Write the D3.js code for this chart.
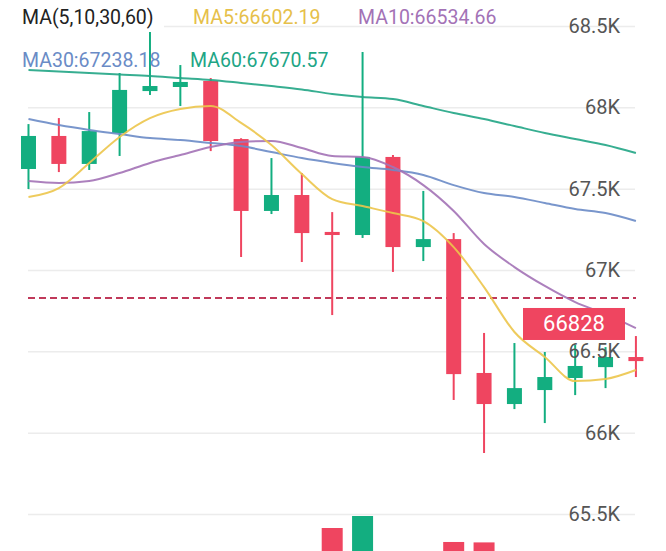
<!DOCTYPE html>
<html>
<head>
<meta charset="utf-8">
<script src="https://d3js.org/d3.v7.min.js"></script>
<style>
  body { margin: 0; background: #fff; }
  svg text { font-family: Roboto, "Noto Sans", sans-serif; }
</style>
</head>
<body>
<svg id="chart"></svg>
<script>
// candles, oldest first
const opens  = [67621, 67824, 67652, 67842, 68100, 68125, 68162, 67805, 67363, 67461, 67234, 67215, 67695, 67141, 67190, 66367, 66176, 66262, 66336, 66403, 66465];
const highs  = [67897, 67934, 67971, 68211, 68463, 68260, 68180, 67810, 67688, 67596, 67356, 68340, 67707, 67486, 67227, 66613, 66551, 66496, 66539, 66526, 66594];
const lows   = [67498, 67602, 67615, 67701, 68076, 68008, 67731, 67080, 67344, 67049, 66723, 67197, 66988, 67055, 66201, 65875, 66145, 66059, 66231, 66274, 66342];
const closes = [67824, 67652, 67854, 68107, 68131, 68156, 67793, 67363, 67461, 67227, 67215, 67695, 67141, 67190, 66360, 66176, 66274, 66342, 66410, 66465, 66440];
const volumes = [420, 380, 510, 690, 300, 280, 720, 780, 350, 560, 1200, 1400, 760, 330, 967, 960, 520, 480, 410, 360, 150];

const ma5  = [67449, 67504, 67658, 67818, 67934, 67990, 68008, 67904, 67768, 67590, 67436, 67393, 67350, 67301, 67141, 66895, 66619, 66465, 66317, 66330, 66385];
const ma10 = [67547, 67535, 67547, 67596, 67658, 67707, 67756, 67787, 67793, 67750, 67701, 67695, 67633, 67522, 67363, 67160, 67018, 66902, 66803, 66729, 66643];
const ma30 = [67928, 67891, 67861, 67836, 67811, 67799, 67781, 67762, 67725, 67688, 67658, 67633, 67615, 67584, 67522, 67473, 67449, 67412, 67375, 67350, 67301];
const ma60 = [68229, 68220, 68211, 68202, 68193, 68180, 68168, 68150, 68131, 68110, 68082, 68063, 68051, 68008, 67965, 67928, 67885, 67842, 67805, 67768, 67719];

const yTicks = [65500, 66000, 66500, 67000, 67500, 68000, 68500];
const yTickLabels = ["65.5K", "66K", "66.5K", "67K", "67.5K", "68K", "68.5K"];
const lastPrice = 66828;

const legendRow1 = [["MA(5,10,30,60)", "#222"], ["MA5:66602.19", "#e6c04a"], ["MA10:66534.66", "#a372b6"]];
const legendRow2 = [["MA30:67238.18", "#6a8bc6"], ["MA60:67670.57", "#21a585"]];

const width = 666, height = 551;
const up = "#13ae80", down = "#ef4560";

const svg = d3.select("#chart").attr("width", width).attr("height", height);

const x = d3.scaleBand().domain(d3.range(opens.length)).range([13.3, 651.1]);
const cx = i => x(i) + x.bandwidth() / 2;
const y = d3.scaleLinear().domain([65500, 68500]).range([514, 26]);
const yVol = d3.scaleLinear().domain([0, 1500]).range([600, 510]);

// grid lines
svg.append("g")
    .attr("transform", "translate(28,0)")
    .call(d3.axisRight(y).tickValues(yTicks).tickSize(607).tickFormat(""))
    .call(g => g.select(".domain").remove())
    .call(g => g.selectAll("line").attr("stroke", "#ececec").attr("stroke-width", 1.5));

// volume
svg.append("g").selectAll("rect")
    .data(volumes)
    .join("rect")
    .attr("x", (d, i) => cx(i) - 10.5)
    .attr("width", 21)
    .attr("y", d => yVol(d))
    .attr("height", d => yVol(0) - yVol(d))
    .attr("fill", (d, i) => closes[i] >= opens[i] ? up : down);

// last price line
svg.append("line")
    .attr("x1", 28).attr("x2", 636)
    .attr("y1", y(lastPrice)).attr("y2", y(lastPrice))
    .attr("stroke", "#c0395a")
    .attr("stroke-width", 2)
    .attr("stroke-dasharray", "7,4");

// candles
const candle = svg.append("g").selectAll("g")
    .data(opens)
    .join("g")
    .attr("fill", (d, i) => closes[i] >= opens[i] ? up : down)
    .attr("stroke", (d, i) => closes[i] >= opens[i] ? up : down);

candle.append("line")
    .attr("x1", (d, i) => cx(i)).attr("x2", (d, i) => cx(i))
    .attr("y1", (d, i) => y(highs[i]))
    .attr("y2", (d, i) => y(lows[i]))
    .attr("stroke-width", 2);

candle.append("rect")
    .attr("stroke", "none")
    .attr("x", (d, i) => cx(i) - 7.5)
    .attr("width", 15)
    .attr("y", (d, i) => y(Math.max(opens[i], closes[i])))
    .attr("height", (d, i) => Math.max(3, Math.abs(y(opens[i]) - y(closes[i]))));

// moving averages
const line = d3.line()
    .x((d, i) => cx(i))
    .y(d => y(d))
    .curve(d3.curveMonotoneX);

[[ma60, "#21a585"], [ma30, "#6a8bc6"], [ma10, "#a372b6"], [ma5, "#ecc54b"]].forEach(([data, color]) => {
    svg.append("path")
        .attr("d", line(data))
        .attr("fill", "none")
        .attr("stroke", color)
        .attr("stroke-width", 2)
        .attr("stroke-opacity", 0.9);
});

// last price label
svg.append("rect")
    .attr("x", 523).attr("y", y(lastPrice) + 10)
    .attr("width", 102).attr("height", 32)
    .attr("fill", down);
svg.append("text")
    .attr("x", 574).attr("y", y(lastPrice) + 26)
    .attr("text-anchor", "middle")
    .attr("dominant-baseline", "central")
    .attr("fill", "#fff")
    .attr("font-size", 22)
    .text(lastPrice);

// axis labels
svg.append("g")
    .selectAll("text")
    .data(yTicks)
    .join("text")
    .attr("x", 620)
    .attr("y", d => y(d))
    .attr("text-anchor", "end")
    .attr("dominant-baseline", "central")
    .attr("fill", "#555")
    .attr("font-size", 20)
    .text((d, i) => yTickLabels[i]);

// legend
svg.append("rect").attr("x", 0).attr("y", 0).attr("width", 164).attr("height", 31).attr("fill", "#fff");
const row1x = [22, 193, 358], row2x = [22, 190];
legendRow1.forEach(([t, c], i) => {
    svg.append("text").attr("x", row1x[i]).attr("y", 24).attr("fill", c).attr("font-size", 19.5).text(t);
});
legendRow2.forEach(([t, c], i) => {
    svg.append("text").attr("x", row2x[i]).attr("y", 67).attr("fill", c).attr("font-size", 19.5).text(t);
});
</script>
</body>
</html>
